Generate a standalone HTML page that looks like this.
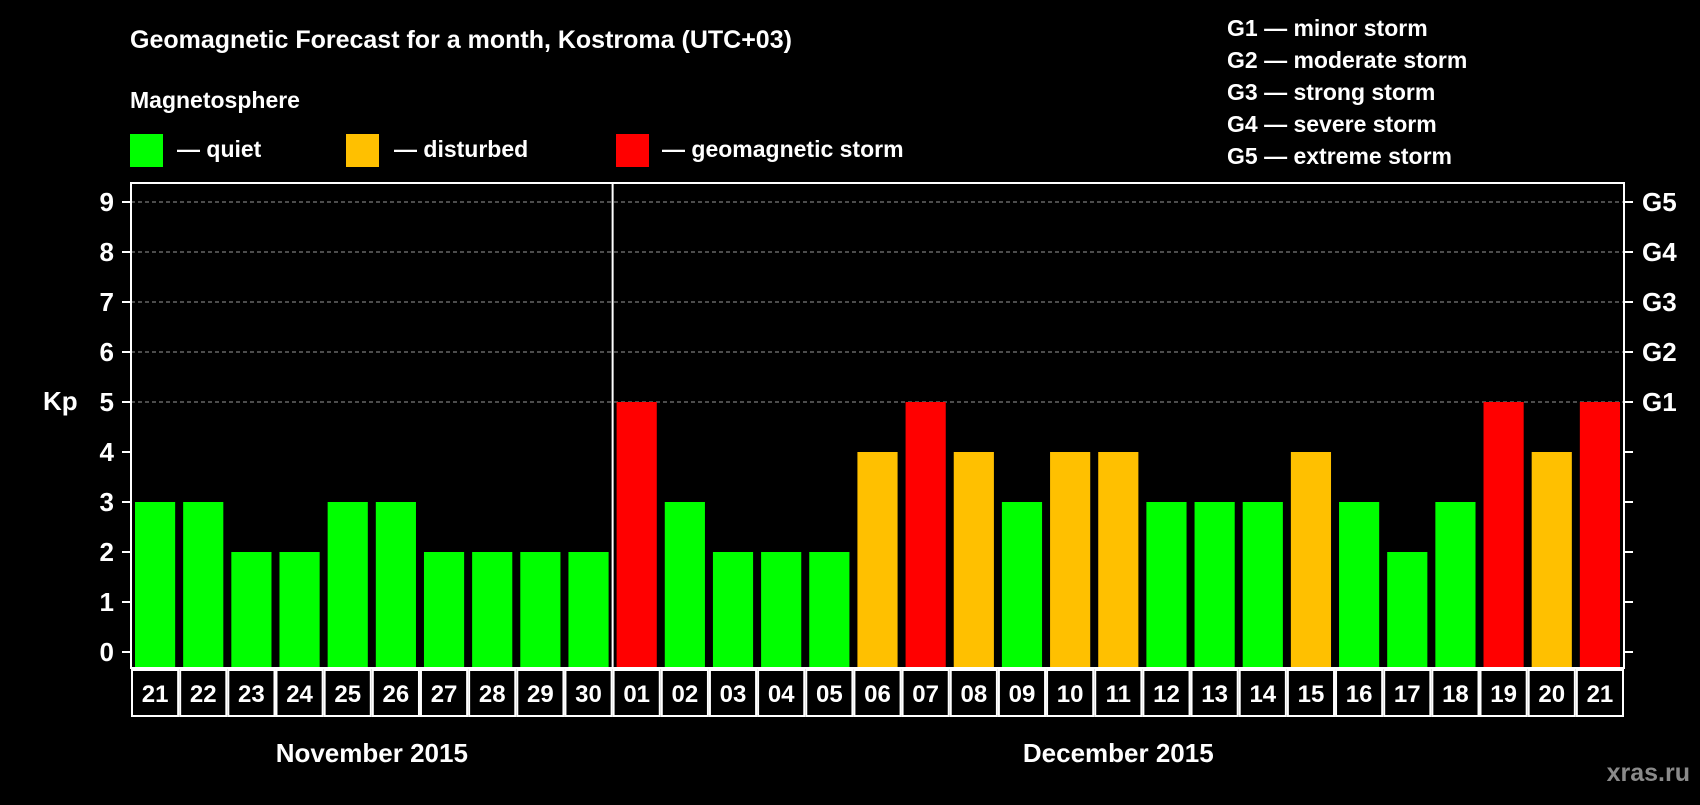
<!DOCTYPE html>
<html><head><meta charset="utf-8"><style>
body{margin:0;background:#000;width:1700px;height:800px;overflow:hidden}
text{font-family:"Liberation Sans",Arial,sans-serif;font-weight:bold;fill:#fff}
</style></head><body>
<svg id="chart" width="1700" height="800" xmlns="http://www.w3.org/2000/svg">
<rect width="1700" height="800" fill="#000"/>
<text x="130" y="48" font-size="25">Geomagnetic Forecast for a month, Kostroma (UTC+03)</text>
<text x="130" y="108" font-size="23">Magnetosphere</text>
<rect x="130" y="134" width="33" height="33" fill="#00ff00"/>
<text x="177" y="157" font-size="23">— quiet</text>
<rect x="346" y="134" width="33" height="33" fill="#ffc000"/>
<text x="394" y="157" font-size="23">— disturbed</text>
<rect x="616" y="134" width="33" height="33" fill="#ff0000"/>
<text x="662" y="157" font-size="23">— geomagnetic storm</text>
<g font-size="23">
<text x="1227" y="36">G1 — minor storm</text>
<text x="1227" y="68">G2 — moderate storm</text>
<text x="1227" y="100">G3 — strong storm</text>
<text x="1227" y="132">G4 — severe storm</text>
<text x="1227" y="164">G5 — extreme storm</text>
</g>
<text x="43" y="410" font-size="26">Kp</text>
<text x="1690" y="781" font-size="25" text-anchor="end" style="fill:#8a8a8a">xras.ru</text>
<g id="plot"></g>
</svg>
<script>
const days=["21","22","23","24","25","26","27","28","29","30","01","02","03","04","05","06","07","08","09","10","11","12","13","14","15","16","17","18","19","20","21"];
const kp=[3,3,2,2,3,3,2,2,2,2,5,3,2,2,2,4,5,4,3,4,4,3,3,3,4,3,2,3,5,4,5];
const yTicks=[0,1,2,3,4,5,6,7,8,9];
const gLabels=["G1","G2","G3","G4","G5"];
const months=["November 2015","December 2015"];
const monthDays=[10,21];
const L=131,R=1624,T=183,B=668,Y0=652,U=50;
const slot=(R-L)/days.length;
const NS="http://www.w3.org/2000/svg";
const g=document.getElementById('plot');
function y(v){return Y0-v*U;}
function x(i){return L+i*slot;}
function mk(t,a){const e=document.createElementNS(NS,t);for(const k in a)e.setAttribute(k,a[k]);g.appendChild(e);return e;}
function col(v){return v>=5?"#ff0000":v>=4?"#ffc000":"#00ff00";}
yTicks.forEach(v=>{
 if(v>=5){const gl=mk('line',{x1:L,x2:R,y1:y(v),y2:y(v),stroke:'#999','stroke-dasharray':'4 3','stroke-width':1});
 
 }
 const t1=mk('line',{x1:L-9,x2:L,y1:y(v),y2:y(v),stroke:'#fff','stroke-width':2});
 
 
 const t2=mk('line',{x1:R,x2:R+9,y1:y(v),y2:y(v),stroke:'#fff','stroke-width':2});
 
 
 const tl=mk('text',{x:114,y:y(v)+9,'font-size':26,'text-anchor':'end'});tl.textContent=v;
 
 
});
gLabels.forEach((s,i)=>{const t=mk('text',{x:1642,y:y(5+i)+9,'font-size':26});t.textContent=s;
 
 });
kp.forEach((v,i)=>{
 const b=mk('rect',{x:x(i)+4,y:y(v),width:slot-8,height:B-y(v),fill:col(v)});
 
 
 const c=mk('rect',{x:x(i)+1,y:B+2,width:slot-2,height:46,fill:'none',stroke:'#fff','stroke-width':2});
 
 
 const t=mk('text',{x:x(i)+slot/2,y:B+34,'font-size':24,'text-anchor':'middle'});t.textContent=days[i];
 
 
});
const fr=mk('rect',{x:L,y:T,width:R-L,height:B-T,fill:'none',stroke:'#fff','stroke-width':2});


let acc=0;
monthDays.forEach((n,i)=>{
 const mx=x(acc)+n*slot/2;
 const t=mk('text',{x:mx,y:762,'font-size':26,'text-anchor':'middle'});t.textContent=months[i];
 
 
 acc+=n;
 if(i<monthDays.length-1){const d=mk('line',{x1:x(acc),x2:x(acc),y1:T,y2:B,stroke:'#fff','stroke-width':2});
 
 }
});
</script>
</body></html>
